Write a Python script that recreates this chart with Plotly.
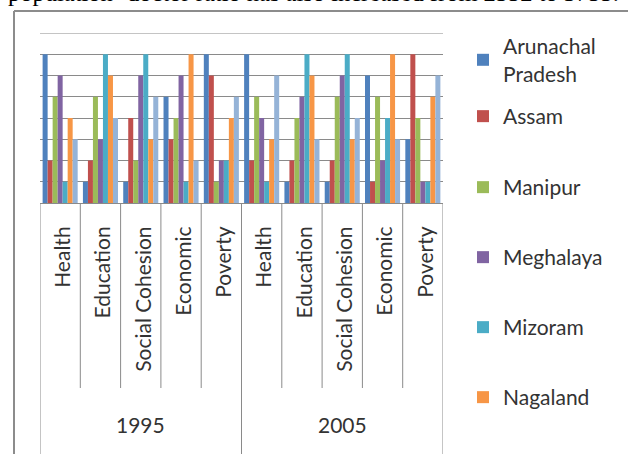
import plotly.graph_objects as go

years = ["1995", "2005"]
categories = ["Health", "Education", "Social Cohesion", "Economic", "Poverty"] * 2
year_of_category = ["1995"] * 5 + ["2005"] * 5

series_names = ["Arunachal<br>Pradesh", "Assam", "Manipur", "Meghalaya", "Mizoram", "Nagaland", "Sikkim"]
arunachal = [7, 1, 1, 5, 7, 7, 1, 1, 6, 3]
assam     = [2, 2, 4, 3, 6, 2, 2, 2, 1, 7]
manipur   = [5, 5, 2, 4, 1, 5, 4, 5, 5, 4]
meghalaya = [6, 3, 6, 6, 2, 4, 5, 6, 2, 1]
mizoram   = [1, 7, 7, 1, 2, 1, 7, 7, 4, 1]
nagaland  = [4, 6, 3, 7, 4, 3, 6, 3, 7, 5]
sikkim    = [3, 4, 5, 2, 5, 6, 3, 4, 3, 6]
series_values = [arunachal, assam, manipur, meghalaya, mizoram, nagaland, sikkim]
colors = ["#4F81BD", "#C0504D", "#9BBB59", "#8064A2", "#4BACC6", "#F79646", "#95B3D7"]

Y_MAX = 8

FONT = "Lato"
GRID = "#8a8a8a"
TXT = "#333333"

W, H = 628, 454
L, R, T, B = 40, 185, 33, 251
pw, ph = W - L - R, H - T - B

def px_x(p):
    return (p - L) / pw

def px_y(p):
    return (H - B - p) / ph

n = len(categories)
xpos = list(range(n))

# vertical pixel of the top of each legend entry
legend_tops = [26, 96, 167, 237, 307, 377]

fig = go.Figure()
for i, (name, vals) in enumerate(zip(series_names, series_values)):
    lg = "legend" if i == 0 else f"legend{i + 1}"
    fig.add_trace(go.Bar(
        x=xpos, y=vals, name=name,
        marker=dict(color=colors[i], line=dict(width=0)),
        showlegend=(i < 6), legend=lg if i < 6 else "legend",
    ))

shapes = []
shapes.append(dict(type="line", xref="paper", yref="paper", x0=px_x(14), x1=px_x(700),
                   y0=px_y(11), y1=px_y(11), line=dict(color="#8c8c8c", width=2)))
shapes.append(dict(type="line", xref="paper", yref="paper", x0=px_x(14), x1=px_x(14),
                   y0=px_y(11), y1=px_y(470), line=dict(color="#8c8c8c", width=2)))
# top gridline at the axis maximum
shapes.append(dict(type="line", xref="paper", yref="y", x0=0, x1=1, y0=Y_MAX, y1=Y_MAX,
                   line=dict(color=GRID, width=1), layer="below"))
# category boundaries (long ones between years)
for i in range(n + 1):
    is_year_edge = (i == 0 or i == n or year_of_category[i - 1] != year_of_category[i])
    bottom = 470 if is_year_edge else 388
    shapes.append(dict(type="line", xref="x", yref="paper", x0=i - 0.5, x1=i - 0.5,
                       y0=0, y1=px_y(bottom), line=dict(color=GRID, width=1)))

annotations = [dict(text="population- doctor ratio has also increased from 2552 to 3755.",
                    xref="paper", yref="paper", x=px_x(6), y=px_y(-7),
                    xanchor="left", yanchor="middle", showarrow=False,
                    font=dict(family="Liberation Serif", size=24.5, color="#000000"))]
for yr in years:
    idx = [k for k, y in enumerate(year_of_category) if y == yr]
    annotations.append(dict(text=yr, xref="x", yref="paper",
                            x=sum(idx) / len(idx), y=px_y(425),
                            xanchor="center", yanchor="middle", showarrow=False,
                            font=dict(family=FONT, size=21, color=TXT)))

legends = {}
for i, top in enumerate(legend_tops):
    key = "legend" if i == 0 else f"legend{i + 1}"
    legends[key] = dict(x=px_x(463), y=px_y(top), xanchor="left", yanchor="top",
                        font=dict(family=FONT, size=21, color=TXT),
                        itemwidth=30, bgcolor="rgba(0,0,0,0)")

fig.update_layout(
    width=W, height=H,
    margin=dict(l=L, r=R, t=T, b=B, autoexpand=False),
    paper_bgcolor="white", plot_bgcolor="white",
    barmode="group", bargap=0.13, bargroupgap=0,
    font=dict(family=FONT, size=21, color=TXT),
    shapes=shapes,
    annotations=annotations,
    **legends,
)
fig.update_xaxes(
    range=[-0.5, n - 0.5], tickmode="array", tickvals=xpos, ticktext=categories,
    showgrid=False, tickangle=-90, automargin=False,
    showline=True, linecolor=GRID, linewidth=1,
    ticks="", ticklabelstandoff=14, ticklabelshift=3, zeroline=False,
    tickfont=dict(family=FONT, size=21, color=TXT),
)
fig.update_yaxes(
    range=[0, Y_MAX], dtick=1, showticklabels=False, showgrid=True, automargin=False,
    gridcolor=GRID, gridwidth=1, zeroline=False, showline=False,
)

fig.write_html("out.html", config={"displayModeBar": False},
               post_script="document.body.style.margin='0';")
